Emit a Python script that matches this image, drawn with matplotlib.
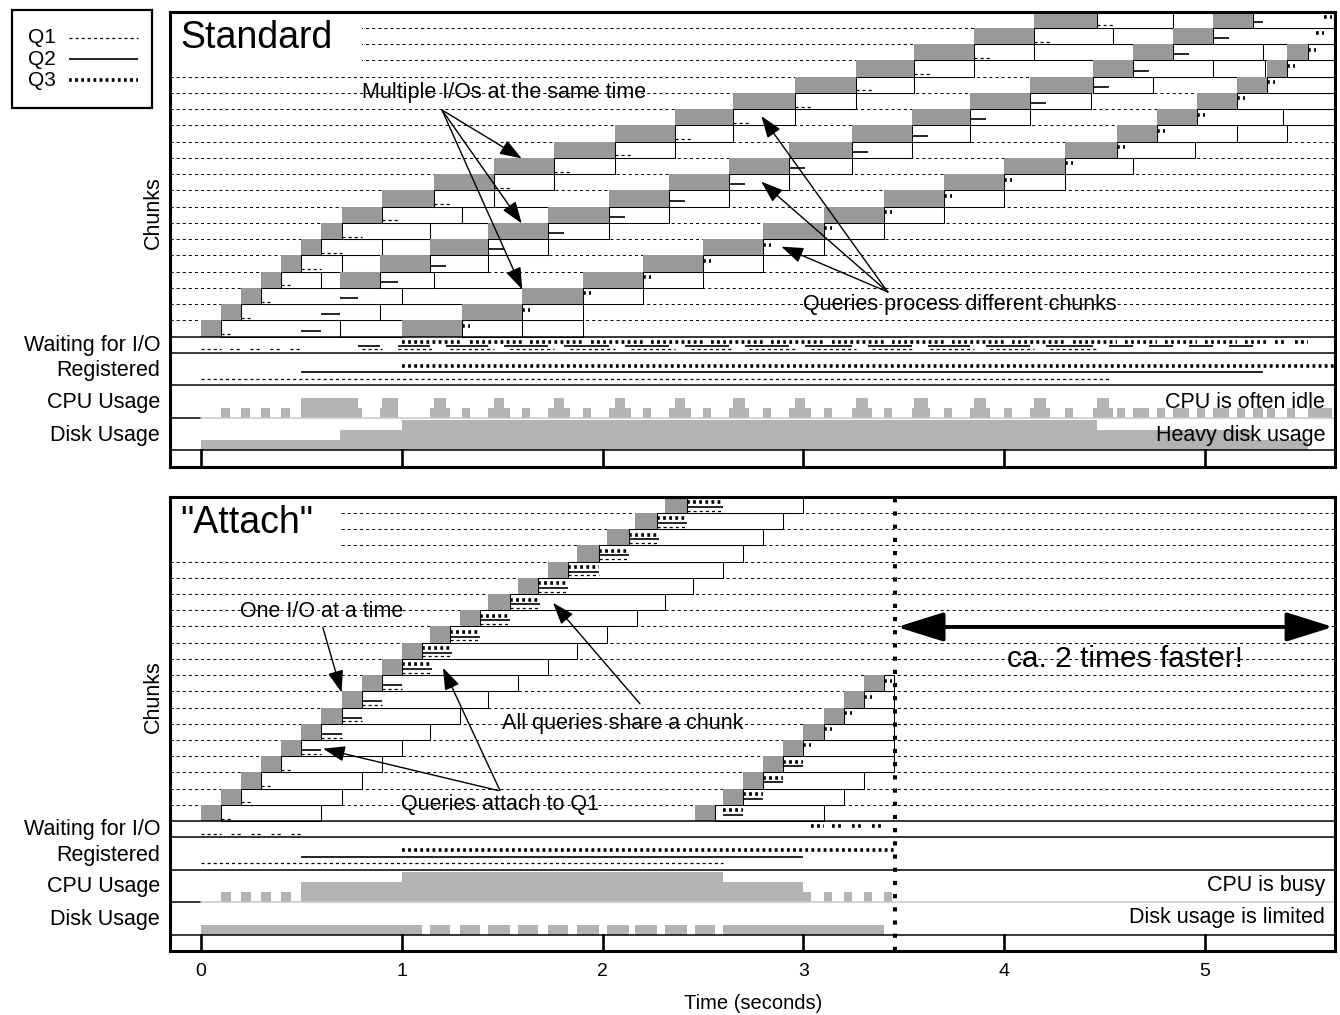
import numpy as np
import matplotlib.pyplot as plt
from matplotlib.patches import Rectangle, FancyArrowPatch
from matplotlib.lines import Line2D

plt.rcParams['font.family'] = ['Liberation Sans', 'DejaVu Sans']
plt.rcParams['lines.scale_dashes'] = False

nan = np.nan

# ---------------- "Standard": every query reads its own chunks ----------------
# index in each list = chunk number 0..19, nan = chunk found in the buffer
std_q1_read_start = [0.00, 0.10, 0.20, 0.30, 0.40, 0.50, 0.60, 0.70, 0.90, 1.16,
                     1.46, 1.76, 2.06, 2.36, 2.65, 2.96, 3.26, 3.55, 3.85, 4.15]
std_q1_read_end = [0.10, 0.20, 0.30, 0.40, 0.50, 0.60, 0.70, 0.90, 1.16, 1.46,
                   1.76, 2.06, 2.36, 2.65, 2.96, 3.26, 3.55, 3.85, 4.15, 4.46]
std_q1_release = [0.69, 0.89, 1.00, 0.60, 0.70, 0.90, 1.14, 1.30, 1.46, 1.76,
                  2.06, 2.36, 2.65, 2.96, 3.26, 3.55, 3.85, 4.15, 4.54, 4.84]
std_q1_evict = [1.00, 1.30, 1.60, 0.69, 0.89, 1.14, 1.43, 1.73, 1.46, 1.76,
                2.06, 2.36, 2.65, 2.96, 3.26, 3.55, 3.85, 4.64, 4.84, 5.04]
std_q1_proc_start = [0.10, 0.20, 0.30, 0.40, 0.50, 0.60, 0.70, 0.90, 1.16, 1.46,
                     1.76, 2.06, 2.36, 2.65, 2.96, 3.26, 3.55, 3.85, 4.15, 4.46]
std_q1_proc_end = [0.145, 0.245, 0.345, 0.445, 0.60, 0.70, 0.80, 0.98, 1.24, 1.54,
                   1.84, 2.14, 2.44, 2.73, 3.04, 3.34, 3.63, 3.93, 4.23, 4.54]

std_q2_read_start = [nan, nan, nan, 0.69, 0.89, 1.14, 1.43, 1.73, 2.03, 2.33,
                     2.63, 2.93, 3.24, 3.54, 3.83, 4.13, 4.44, 4.64, 4.84, 5.04]
std_q2_read_end = [nan, nan, nan, 0.89, 1.14, 1.43, 1.73, 2.03, 2.33, 2.63,
                   2.93, 3.24, 3.54, 3.83, 4.13, 4.44, 4.64, 4.84, 5.04, 5.24]
std_q2_release = [nan, nan, nan, 1.16, 1.43, 1.73, 2.03, 2.33, 2.63, 2.93,
                  3.24, 3.54, 3.83, 4.13, 4.43, 4.74, 5.04, 5.29, 5.64, 5.64]
std_q2_evict = [nan, nan, nan, 1.16, 1.43, 1.73, 2.03, 2.33, 2.63, 2.93,
                3.24, 3.54, 3.83, 4.13, 4.43, 4.74, 5.30, 5.41, 5.64, 5.64]
std_q2_proc_start = [0.50, 0.60, 0.69, 0.89, 1.14, 1.43, 1.73, 2.03, 2.33, 2.63,
                     2.93, 3.24, 3.54, 3.83, 4.13, 4.44, 4.64, 4.84, 5.04, 5.24]
std_q2_proc_end = [0.60, 0.69, 0.78, 0.98, 1.22, 1.51, 1.81, 2.11, 2.41, 2.71,
                   3.01, 3.32, 3.62, 3.91, 4.21, 4.52, 4.72, 4.92, 5.12, 5.29]

std_q3_read_start = [1.00, 1.30, 1.60, 1.90, 2.20, 2.50, 2.80, 3.10, 3.40, 3.70,
                     4.00, 4.30, 4.56, 4.76, 4.96, 5.16, 5.31, 5.41, nan, nan]
std_q3_read_end = [1.30, 1.60, 1.90, 2.20, 2.50, 2.80, 3.10, 3.40, 3.70, 4.00,
                   4.30, 4.56, 4.76, 4.96, 5.16, 5.31, 5.41, 5.51, nan, nan]
std_q3_release = [1.60, 1.90, 2.20, 2.50, 2.80, 3.10, 3.40, 3.70, 4.00, 4.30,
                  4.64, 4.95, 5.16, 5.39, 5.64, 5.64, 5.64, 5.64, nan, nan]
std_q3_evict = [1.90, 1.90, 2.20, 2.50, 2.80, 3.10, 3.40, 3.70, 4.00, 4.30,
                4.64, 4.95, 5.41, 5.64, 5.64, 5.64, 5.64, 5.64, nan, nan]
std_q3_proc_start = [1.30, 1.60, 1.90, 2.20, 2.50, 2.80, 3.10, 3.40, 3.70, 4.00,
                     4.30, 4.56, 4.76, 4.96, 5.16, 5.31, 5.41, 5.51, 5.55, 5.59]
std_q3_proc_end = [1.34, 1.64, 1.94, 2.24, 2.54, 2.84, 3.14, 3.44, 3.74, 4.04,
                   4.34, 4.60, 4.80, 5.00, 5.20, 5.35, 5.45, 5.55, 5.59, 5.63]

std_reg_start = [0.00, 0.50, 1.00]
std_reg_end = [4.52, 5.29, 5.64]

# ---------------- "Attach": one shared scan, queries hop on ----------------
att_chunk = list(range(20)) + list(range(9))
att_read_start = [0.00, 0.10, 0.20, 0.30, 0.40, 0.50, 0.60, 0.70, 0.80, 0.90,
                  1.00, 1.14, 1.29, 1.43, 1.58, 1.73, 1.87, 2.02, 2.16, 2.31,
                  2.46, 2.60, 2.70, 2.80, 2.90, 3.00, 3.10, 3.20, 3.30]
att_read_end = [0.10, 0.20, 0.30, 0.40, 0.50, 0.60, 0.70, 0.80, 0.90, 1.00,
                1.10, 1.24, 1.39, 1.54, 1.68, 1.83, 1.98, 2.13, 2.27, 2.42,
                2.56, 2.70, 2.80, 2.90, 3.00, 3.10, 3.20, 3.30, 3.40]
att_hold_end = [0.60, 0.70, 0.80, 0.90, 1.00, 1.14, 1.29, 1.43, 1.58, 1.73,
                1.87, 2.02, 2.17, 2.31, 2.45, 2.60, 2.70, 2.80, 2.90, 3.00,
                3.10, 3.20, 3.30, 3.45, 3.45, 3.45, 3.45, 3.45, 3.45]
att_proc_start = [0.10, 0.20, 0.30, 0.40, 0.50, 0.60, 0.70, 0.80, 0.90, 1.00,
                  1.10, 1.24, 1.39, 1.54, 1.68, 1.83, 1.98, 2.13, 2.27, 2.42,
                  2.60, 2.70, 2.80, 2.90, 3.00, 3.10, 3.20, 3.30, 3.40]
att_proc_end = [0.15, 0.25, 0.35, 0.45, 0.60, 0.70, 0.80, 0.90, 1.00, 1.15,
                1.25, 1.39, 1.54, 1.69, 1.83, 1.98, 2.13, 2.28, 2.42, 2.60,
                2.70, 2.80, 2.90, 3.00, 3.04, 3.14, 3.24, 3.34, 3.44]
att_queries = ['1'] * 4 + ['12'] * 5 + ['123'] * 11 + ['23'] * 4 + ['3'] * 5

att_reg_start = [0.00, 0.50, 1.00]
att_reg_end = [2.60, 3.00, 3.45]

# ---------------- styles ----------------
IO_GREY = '#999999'
USE_GREY = '#b3b3b3'
LEV = 0.615
X0, X1 = -0.154, 5.647
MARK_Y = {1: 0.15, 2: 0.38, 3: 0.66}
WAIT_Y = {1: -0.78, 2: -0.6, 3: -0.3}
REG_Y = {1: -2.6, 2: -2.2, 3: -1.78}
STYLE = {1: dict(lw=0.9, ls=(0, (2.2, 2.2))),
         2: dict(lw=1.2, ls='-'),
         3: dict(lw=2.6, ls=(0, (2.0, 2.4)))}
FS = 15.5


def qline(ax, q, x0, x1, y, z=5):
    ax.plot([x0, x1], [y, y], color='black', solid_capstyle='butt',
            dash_capstyle='butt', zorder=z, **STYLE[q])


def union(ivs):
    out = []
    for s, e in sorted(ivs):
        if out and s <= out[-1][1] + 1e-9:
            out[-1][1] = max(out[-1][1], e)
        else:
            out.append([s, e])
    return out


def usage(ax, sets, base):
    edges = sorted({x for ivs in sets for iv in ivs for x in iv})
    lev = []
    for a, b in zip(edges[:-1], edges[1:]):
        m = 0.5 * (a + b)
        lev.append(sum(any(s <= m < e for s, e in ivs) for ivs in sets))
    top = base + np.array(lev + [0]) * LEV
    ax.fill_between(edges, base, top, step='post', color=USE_GREY, lw=0, zorder=4)


def waits(ax, q, reg0, procs):
    prev = reg0
    for s, e in sorted(procs):
        if s > prev + 1e-6:
            qline(ax, q, prev, s, WAIT_Y[q])
        prev = max(prev, e)


def box(ax, c, s, e):
    if np.isnan(s) or np.isnan(e) or e <= s:
        return
    ax.add_patch(Rectangle((s, c), e - s, 1, fc='white', ec='black', lw=0.75, zorder=2))


def grey(ax, c, s, e):
    if np.isnan(s):
        return
    ax.add_patch(Rectangle((s, c), e - s, 1, fc=IO_GREY, ec='none', zorder=3))


def base(ax, title, cover):
    ax.set_xlim(X0, X1)
    ax.set_ylim(-8, 20)
    ax.set_yticks([])
    for s in ax.spines.values():
        s.set_linewidth(2.2)
        s.set_zorder(20)
    for k in range(1, 20):
        ax.plot([X0, X1], [k, k], color='black', lw=0.7, ls=(0, (2.2, 2.2)), zorder=1)
    for y in (0, -1, -3, -7):
        ax.plot([X0, X1], [y, y], color='black', lw=1.1, zorder=8)
    ax.plot([X0, 0], [-5, -5], color='black', lw=1.1, zorder=8)
    ax.plot([0, X1], [-5, -5], color='#c8c8c8', lw=1.1, zorder=8)
    for t in range(6):
        ax.plot([t, t], [-8, -7], color='black', lw=1.9, zorder=8)
    ax.add_patch(Rectangle((X0, 16.5), cover - X0, 3.5, fc='white', ec='none', zorder=1.5))
    ax.text(-0.105, 18.38, title, fontsize=27, ha='left', va='center', zorder=6)
    tr = ax.get_yaxis_transform()
    ax.text(-0.0146, 7.65, 'Chunks', rotation=90, fontsize=FS, ha='center', va='center',
            transform=tr)
    for lab, y in [('Waiting for I/O', -0.55), ('Registered', -2.1),
                   ('CPU Usage', -4.05), ('Disk Usage', -6.1)]:
        ax.text(-0.0086, y, lab, fontsize=FS, ha='right', va='center', transform=tr)


def arrow(ax, xy_from, xy_to, big=False):
    if big:
        st = '<|-|>,head_length=1.6,head_width=0.5'
        a = FancyArrowPatch(xy_from, xy_to, arrowstyle=st, mutation_scale=18,
                            color='black', lw=2.8, shrinkA=0, shrinkB=0, zorder=9)
    else:
        st = '-|>,head_length=0.9,head_width=0.32'
        a = FancyArrowPatch(xy_from, xy_to, arrowstyle=st, mutation_scale=15,
                            color='black', lw=1.0, shrinkA=0, shrinkB=0, zorder=9)
    ax.add_patch(a)


fig = plt.figure(figsize=(13.4, 10.15), dpi=100)
ax1 = fig.add_axes([0.1269, 0.5402, 0.8694, 0.4483])
ax2 = fig.add_axes([0.1269, 0.0633, 0.8694, 0.4473])

# ---------------- Standard panel ----------------
base(ax1, 'Standard', 0.80)
ax1.set_xticks([])
std = {
    1: (std_q1_read_start, std_q1_read_end, std_q1_release, std_q1_evict,
        std_q1_proc_start, std_q1_proc_end),
    2: (std_q2_read_start, std_q2_read_end, std_q2_release, std_q2_evict,
        std_q2_proc_start, std_q2_proc_end),
    3: (std_q3_read_start, std_q3_read_end, std_q3_release, std_q3_evict,
        std_q3_proc_start, std_q3_proc_end),
}
cpu_sets, disk_sets = [], []
for q, (rs, re_, rel, ev, ps, pe) in std.items():
    for c in range(20):
        box(ax1, c, re_[c], rel[c])
        box(ax1, c, rel[c], ev[c])
        grey(ax1, c, rs[c], re_[c])
        if not np.isnan(rs[c]):
            disk_sets.append([(rs[c], re_[c])])
        qline(ax1, q, ps[c], pe[c], c + MARK_Y[q])
    procs = list(zip(ps, pe))
    cpu_sets.append(union(procs))
    waits(ax1, q, std_reg_start[q - 1], procs)
    qline(ax1, q, std_reg_start[q - 1], std_reg_end[q - 1], REG_Y[q])
usage(ax1, cpu_sets, -5)
usage(ax1, disk_sets, -7)

ax1.text(1.51, 15.0, 'Multiple I/Os at the same time', fontsize=FS, ha='center',
         va='center', zorder=6)
for hx, hy in [(1.597, 10.97), (1.597, 6.97), (1.60, 2.9)]:
    arrow(ax1, (1.20, 13.95), (hx, hy))
ax1.text(3.78, 2.0, 'Queries process different chunks', fontsize=FS, ha='center',
         va='center', zorder=6)
for hx, hy in [(2.79, 13.58), (2.79, 9.54), (2.89, 5.54)]:
    arrow(ax1, (3.42, 2.75), (hx, hy))
ax1.text(5.597, -4.02, 'CPU is often idle', fontsize=FS, ha='right', va='center', zorder=6)
ax1.text(5.597, -6.05, 'Heavy disk usage', fontsize=FS, ha='right', va='center', zorder=6)

# ---------------- Attach panel ----------------
base(ax2, '"Attach"', 0.69)
per_q = {1: [], 2: [], 3: []}
reads = []
for c, rs, re_, he, ps, pe, qs in zip(att_chunk, att_read_start, att_read_end,
                                      att_hold_end, att_proc_start, att_proc_end,
                                      att_queries):
    box(ax2, c, re_, he)
    grey(ax2, c, rs, re_)
    reads.append([(rs, re_)])
    for ch in qs:
        q = int(ch)
        qline(ax2, q, ps, pe, c + MARK_Y[q])
        per_q[q].append((ps, pe))
for q in (1, 2, 3):
    waits(ax2, q, att_reg_start[q - 1], per_q[q])
    qline(ax2, q, att_reg_start[q - 1], att_reg_end[q - 1], REG_Y[q])
usage(ax2, [union(per_q[q]) for q in (1, 2, 3)], -5)
usage(ax2, reads, -7)

ax2.plot([3.455, 3.455], [-8, 20], color='black', lw=2.9, ls=(0, (3.0, 6.5)),
         dash_capstyle='butt', zorder=12)
arrow(ax2, (3.466, 11.97), (5.637, 11.97), big=True)
ax2.text(4.60, 10.0, 'ca. 2 times faster!', fontsize=21.5, ha='center', va='center', zorder=6)
ax2.text(0.603, 12.95, 'One I/O at a time', fontsize=FS, ha='center', va='center', zorder=6)
arrow(ax2, (0.607, 11.93), (0.70, 7.93))
ax2.text(2.10, 6.0, 'All queries share a chunk', fontsize=FS, ha='center', va='center', zorder=6)
arrow(ax2, (2.186, 7.23), (1.753, 13.46))
ax2.text(1.49, 1.02, 'Queries attach to Q1', fontsize=FS, ha='center', va='center', zorder=6)
arrow(ax2, (1.489, 1.88), (1.205, 9.45))
arrow(ax2, (1.48, 1.88), (0.608, 4.46))
ax2.text(5.597, -4.0, 'CPU is busy', fontsize=FS, ha='right', va='center', zorder=6)
ax2.text(5.597, -5.97, 'Disk usage is limited', fontsize=FS, ha='right', va='center', zorder=6)

ax2.set_xticks(range(6))
ax2.set_xticklabels([str(t) for t in range(6)])
ax2.tick_params(axis='x', length=0, pad=9, labelsize=14)
fig.text(0.562, 0.0118, 'Time (seconds)', fontsize=14.5, ha='center', va='center')

# ---------------- legend ----------------
fig.add_artist(Rectangle((0.0087, 0.8936), 0.1047, 0.0965, transform=fig.transFigure,
                         fill=False, ec='black', lw=1.6))
for q, y in [(1, 0.9626), (2, 0.9416), (3, 0.9209)]:
    fig.text(0.0209, y, 'Q%d' % q, fontsize=15, ha='left', va='center')
    fig.add_artist(Line2D([0.0515, 0.103], [y, y], transform=fig.transFigure,
                          color='black', solid_capstyle='butt', dash_capstyle='butt',
                          **STYLE[q]))

fig.savefig('out.png', dpi=100)
